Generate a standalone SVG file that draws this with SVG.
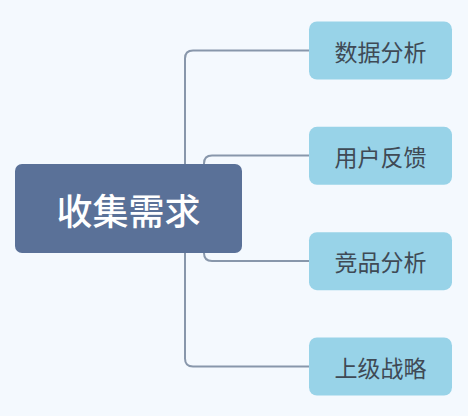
<svg xmlns="http://www.w3.org/2000/svg" width="468" height="416" viewBox="0 0 468 416">
<style>
.bg{fill:#F4F9FE}
.conn{fill:none;stroke:#8897AB;stroke-width:2}
.root rect{fill:#5A7198}
.root text{fill:#FFFFFF;font-family:"Noto Sans CJK SC","Noto Sans",sans-serif;font-size:36px;font-weight:500;text-anchor:middle;dominant-baseline:central}
.child rect{fill:#98D3E8}
.child text{fill:#3F4A55;font-family:"Noto Sans CJK SC","Noto Sans",sans-serif;font-size:23px;text-anchor:middle;dominant-baseline:central}
</style>
<rect class="bg" x="0" y="0" width="468" height="416"/>
<g id="connectors">
<path class="conn" d="M185,164 V58.5 Q185,50.5 193,50.5 H309"/>
<path class="conn" d="M204,164 V163.5 Q204,155.5 212,155.5 H309"/>
<path class="conn" d="M204,253 V253 Q204,261 212,261 H309"/>
<path class="conn" d="M185,253 V358.5 Q185,366.5 193,366.5 H309"/>
</g>
<g id="root" class="root">
<rect x="15" y="164" width="227" height="89" rx="7"/>
<text x="128.5" y="208.5">收集需求</text>
</g>
<g id="n1" class="child">
<rect x="309" y="21.5" width="143" height="58" rx="8"/>
<text x="380.5" y="50.5">数据分析</text>
</g>
<g id="n2" class="child">
<rect x="309" y="126.8" width="143" height="58" rx="8"/>
<text x="380.5" y="155.8">用户反馈</text>
</g>
<g id="n3" class="child">
<rect x="309" y="232.2" width="143" height="58" rx="8"/>
<text x="380.5" y="261.2">竞品分析</text>
</g>
<g id="n4" class="child">
<rect x="309" y="337.5" width="143" height="58" rx="8"/>
<text x="380.5" y="366.5">上级战略</text>
</g>
</svg>
